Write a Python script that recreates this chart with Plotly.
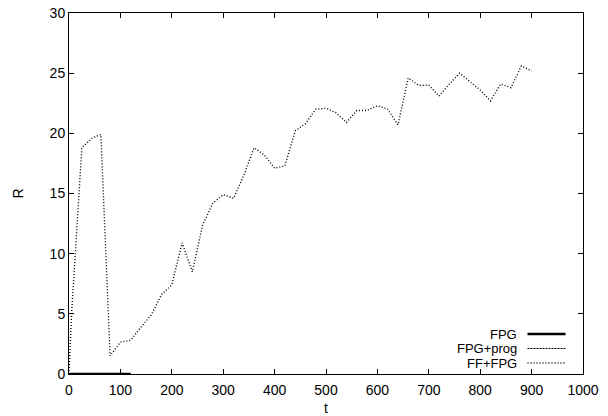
import plotly.graph_objects as go

# FPG series
t_fpg = [0, 120]
r_fpg = [0, 0]

# FPG+prog series
t_prog = [0, 120]
r_prog = [0, 0]

# FF+FPG series
t_ff = [0, 5, 25, 45, 62, 80, 100, 120, 140, 160, 180, 200, 220, 240, 260, 280,
        300, 320, 340, 360, 380, 400, 420, 440, 460, 480, 500, 520, 540, 560,
        580, 600, 620, 640, 660, 680, 700, 720, 740, 760, 780, 800, 820, 840,
        860, 880, 900]
r_ff = [0, 5.0, 18.8, 19.6, 19.9, 1.5, 2.65, 2.8, 3.9, 4.9, 6.6, 7.4, 10.9, 8.5,
        12.4, 14.2, 14.9, 14.6, 16.5, 18.8, 18.2, 17.1, 17.3, 20.2, 20.8, 22.0,
        22.1, 21.7, 20.9, 21.9, 21.9, 22.3, 22.0, 20.7, 24.6, 24.0, 24.0, 23.1,
        24.1, 25.0, 24.3, 23.6, 22.7, 24.1, 23.8, 25.6, 25.2]

x_ticks = [0, 100, 200, 300, 400, 500, 600, 700, 800, 900, 1000]
y_ticks = [0, 5, 10, 15, 20, 25, 30]

names = ["FPG", "FPG+prog", "FF+FPG"]
styles = [dict(color="black", width=2.5, dash="solid"),
          dict(color="black", width=1, dash="2px,1px"),
          dict(color="black", width=1.4, dash="1px,2px")]

fig = go.Figure()
fig.add_trace(go.Scatter(x=t_ff, y=r_ff, mode="lines", line=styles[2], showlegend=False))
fig.add_trace(go.Scatter(x=t_prog, y=r_prog, mode="lines", line=styles[1], showlegend=False))
fig.add_trace(go.Scatter(x=t_fpg, y=r_fpg, mode="lines", line=styles[0], showlegend=False,
                         cliponaxis=False))

FONT = "Liberation Sans, Arial, sans-serif"

# manual gnuplot-style legend (text right, sample to the right)
W, H = 608, 416
ml, mr, mt, mb = 69, 25, 13, 42
pw, ph = W - ml - mr, H - mt - mb
legend_y = [334, 348.5, 363]
for name, st, py in zip(names, styles, legend_y):
    yp = 1 - (py - mt) / ph
    fig.add_annotation(x=(517.5 - ml) / pw, y=yp, xref="paper", yref="paper",
                       text=name, showarrow=False, xanchor="right", yanchor="middle",
                       borderpad=0,
                       font=dict(family=FONT, size=13, color="black"))
    fig.add_shape(type="line", xref="paper", yref="paper",
                  x0=(527.5 - ml) / pw, x1=(565.5 - ml) / pw, y0=yp, y1=yp,
                  line=st)

axis_common = dict(showgrid=False, zeroline=False, showline=True, linecolor="black",
                   linewidth=1, mirror="ticks", ticks="inside", ticklen=5,
                   tickcolor="black", tickwidth=1, automargin=False,
                   tickfont=dict(family=FONT, size=14, color="black"))

fig.update_layout(
    width=W, height=H,
    margin=dict(l=ml, r=mr, t=mt, b=mb),
    paper_bgcolor="white", plot_bgcolor="white",
    xaxis=dict(range=[0, 1000], tickvals=x_ticks, ticktext=[str(v) for v in x_ticks],
               ticklabelstandoff=3,
               title=dict(text="t", font=dict(family=FONT, size=14, color="black"), standoff=7),
               **axis_common),
    yaxis=dict(range=[0, 30], tickvals=y_ticks, ticktext=[str(v) for v in y_ticks],
               title=dict(text="R", font=dict(family=FONT, size=14, color="black"), standoff=22),
               **axis_common),
    showlegend=False,
)

fig.write_html("out.html", config={"displayModeBar": False},
               post_script="document.body.style.margin='0';document.body.style.overflow='hidden';")
